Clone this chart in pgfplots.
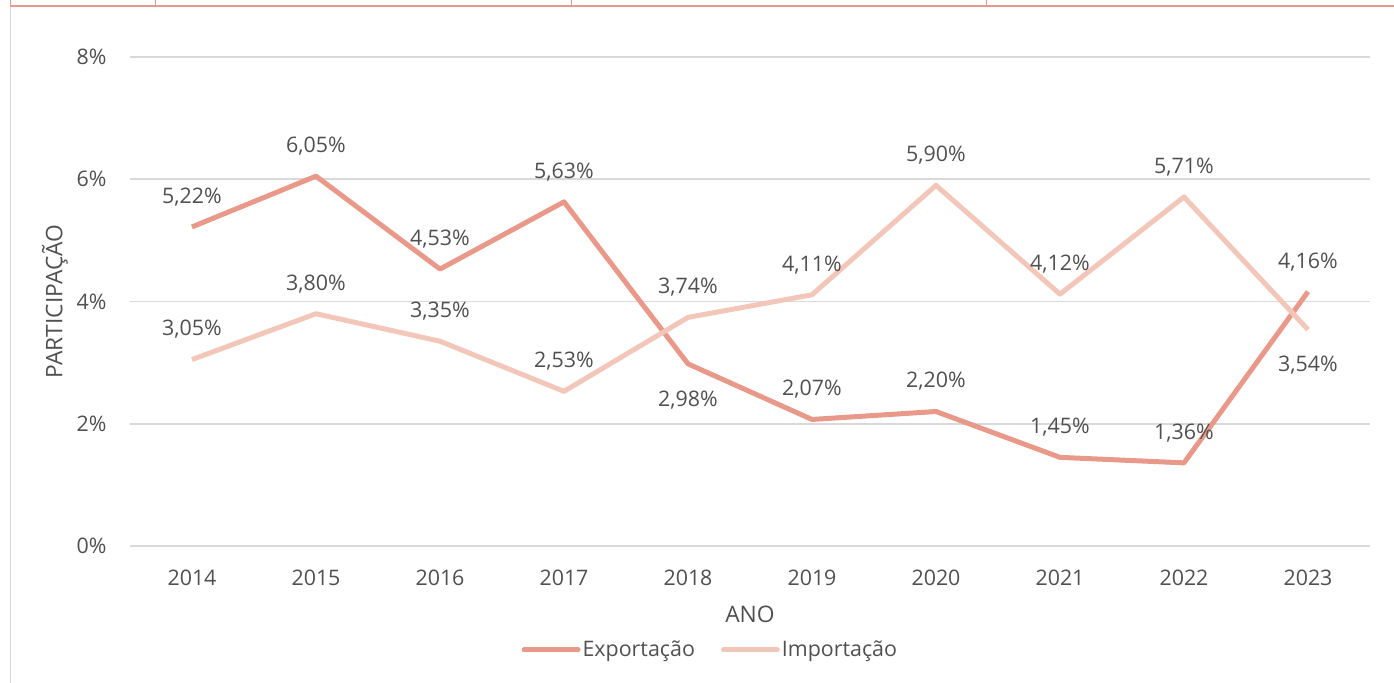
\documentclass[border=0pt]{standalone}
\usepackage{pgfplots}
\pgfplotsset{compat=1.18}
\usepackage{pgfplotstable}
\usepackage{fontspec}
\setmainfont{Open Sans}
\definecolor{exp}{HTML}{E8998A}
\definecolor{imp}{HTML}{F2C6B9}
\definecolor{txt}{HTML}{505050}
\definecolor{grd}{HTML}{D9D9D9}
\pgfplotstableread{
x y s
0 5.22 15
1 6.05 15
2 4.53 15
3 5.63 15
4 2.98 -18
5 2.07 15
6 2.20 15
7 1.45 15
8 1.36 15
9 4.16 15
}\exportacao
\pgfplotstableread{
x y s
0 3.05 15
1 3.80 15
2 3.35 15
3 2.53 15
4 3.74 15
5 4.11 15
6 5.90 15
7 4.12 15
8 5.71 15
9 3.54 -18
}\importacao
\begin{document}
\begin{tikzpicture}
\useasboundingbox (-65pt,-68.5pt) rectangle (632pt,273pt);
% frame remnants
\draw[grd, line width=0.8pt] (-59.65pt,269.5pt) -- (-59.65pt,-68.5pt);
\draw[exp, line width=1pt] (-60pt,270pt) -- (632pt,270pt);
\foreach \xx in {-59.65,12.8,220.8,428.35} \draw[exp, line width=0.6pt] (\xx pt,270pt) -- (\xx pt,273pt);
\begin{axis}[
  at={(0,0)}, anchor=south west,
  scale only axis, width=620pt, height=244.5pt,
  xmin=-0.5, xmax=9.5, ymin=0, ymax=8,
  axis line style={draw=none},
  major tick length=0pt,
  xtick={0,...,9},
  xticklabels={2014,2015,2016,2017,2018,2019,2020,2021,2022,2023},
  ytick={0,2,4,6,8},
  yticklabel={\pgfmathprintnumber{\tick}\%},
  /pgf/number format/assume math mode=true,
  ymajorgrids, grid style={grd, line width=0.8pt},
  tick label style={font=\fontsize{10.7}{12}\selectfont, text=txt},
  xticklabel style={anchor=center, yshift=-16pt},
  yticklabel style={anchor=east, inner sep=0pt, xshift=-11.5pt},
  xlabel={ANO}, ylabel={PARTICIPAÇÃO},
  every axis x label/.style={at={(axis description cs:0.5,0)}, anchor=center, yshift=-34pt, font=\fontsize{11.4}{13}\selectfont, text=txt},
  every axis y label/.style={at={([xshift=-37.5pt]axis description cs:0,0.5)}, rotate=90, anchor=center, font=\fontsize{11.4}{13}\selectfont, text=txt},
  clip=false,
  legend columns=2,
  legend style={at={([yshift=-52pt]axis description cs:0.468,0)}, anchor=center, draw=none, fill=none,
    font=\fontsize{10.7}{12}\selectfont, text=txt, nodes={inner sep=1pt},
    /tikz/every even column/.append style={column sep=12pt}},
  legend image code/.code={\draw[#1, line cap=round] (0pt,0pt) -- (27pt,0pt);},
  nodes near coords={\pgfmathprintnumber[fixed,fixed zerofill,precision=2,use comma]{\pgfplotspointmeta}\%},
  point meta=y,
  visualization depends on={\thisrow{s} \as \sh},
  every node near coord/.append style={anchor=center, yshift=\sh pt, font=\fontsize{10.7}{12}\selectfont, text=txt},
]
\addplot[exp, line width=2.5pt, line join=round, mark=none] table[x=x,y=y] {\exportacao};
\addlegendentry{Exportação}
\addplot[imp, line width=2.5pt, line join=round, mark=none] table[x=x,y=y] {\importacao};
\addlegendentry{Importação}
\end{axis}
\end{tikzpicture}
\end{document}
